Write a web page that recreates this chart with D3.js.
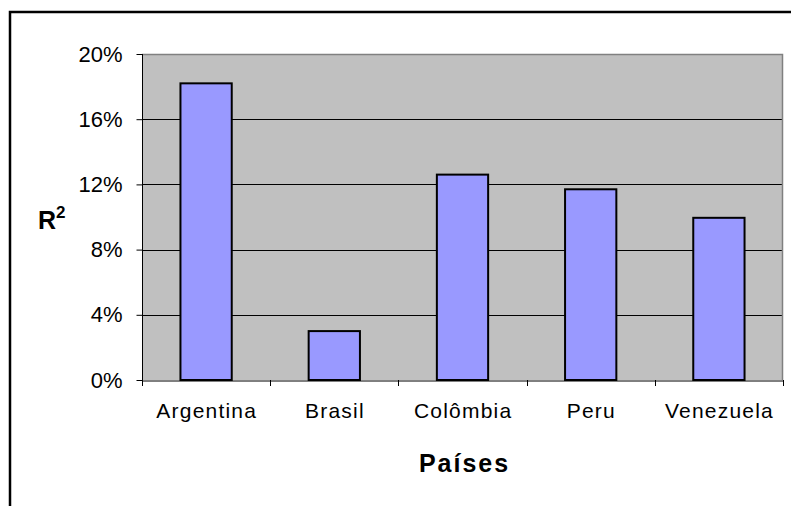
<!DOCTYPE html>
<html>
<head>
<meta charset="utf-8">
<script src="https://cdn.jsdelivr.net/npm/d3@7"></script>
<style>
  body { margin: 0; background: #fff; }
  svg { display: block; font-family: "Liberation Sans", Arial, sans-serif; }
</style>
</head>
<body>
<script>
// data
const countries = ["Argentina", "Brasil", "Colômbia", "Peru", "Venezuela"];
const r2 = [0.182, 0.030, 0.126, 0.117, 0.0995];
const yTicks = [0, 0.04, 0.08, 0.12, 0.16, 0.20];

const width = 791, height = 506;
const margin = { top: 54, right: 8, bottom: 126, left: 142 };

const svg = d3.select("body").append("svg")
  .attr("width", width)
  .attr("height", height);

// outer frame (right/bottom run off the picture)
svg.append("rect")
  .attr("x", 10).attr("y", 12)
  .attr("width", 800).attr("height", 520)
  .attr("fill", "none").attr("stroke", "#000").attr("stroke-width", 2.5);

const x = d3.scaleBand()
  .domain(countries)
  .range([margin.left, width - margin.right])
  .paddingInner(0.6).paddingOuter(0.3);

const xCat = d3.scaleBand()
  .domain(countries)
  .range([margin.left, width - margin.right]);

const y = d3.scaleLinear()
  .domain([0, 0.20])
  .range([height - margin.bottom, margin.top]);

const plotW = width - margin.right - margin.left;

// plot area
svg.append("rect")
  .attr("x", margin.left).attr("y", y(0.20))
  .attr("width", plotW).attr("height", y(0) - y(0.20))
  .attr("fill", "#c0c0c0");

// gridlines
svg.append("g")
  .selectAll("line")
  .data(yTicks.filter(d => d > 0 && d < 0.20))
  .join("line")
  .attr("x1", margin.left).attr("x2", width - margin.right)
  .attr("y1", d => Math.round(y(d)) + 0.5).attr("y2", d => Math.round(y(d)) + 0.5)
  .attr("stroke", "#000").attr("stroke-width", 1);

// plot border top / right
svg.append("path")
  .attr("d", `M${margin.left},${Math.round(y(0.20)) + 0.5}H${width - margin.right - 0.5}V${y(0)}`)
  .attr("fill", "none").attr("stroke", "#808080").attr("stroke-width", 1.5);

// bars
svg.append("g")
  .selectAll("rect")
  .data(countries)
  .join("rect")
  .attr("x", d => x(d))
  .attr("y", (d, i) => y(r2[i]))
  .attr("width", x.bandwidth())
  .attr("height", (d, i) => y(0) - y(r2[i]))
  .attr("fill", "#9999ff")
  .attr("stroke", "#000").attr("stroke-width", 2);

// y axis
const yAxis = d3.axisLeft(y)
  .tickValues(yTicks)
  .tickFormat(d3.format(".0%"))
  .tickSize(6).tickSizeOuter(0).tickPadding(14);

svg.append("g")
  .attr("transform", `translate(${margin.left + 0.5},0)`)
  .call(yAxis)
  .call(g => g.select(".domain").attr("stroke", "#000").attr("d", `M0,${y(0.20)}V${y(0)}`))
  .call(g => g.selectAll("text").attr("font-size", 22).attr("fill", "#000")
    .attr("font-family", "Liberation Sans, Arial, sans-serif"));

// x axis
const xAxis = d3.axisBottom(xCat).tickSize(0).tickPadding(23);

svg.append("g")
  .attr("transform", `translate(0,${y(0) + 0.5})`)
  .call(xAxis)
  .call(g => g.select(".domain").attr("stroke", "#000"))
  .call(g => g.selectAll("text").attr("font-size", 21).attr("fill", "#000")
    .attr("letter-spacing", "1.2px").attr("dx", "0.6px")
    .attr("font-family", "Liberation Sans, Arial, sans-serif"));

// x ticks at category boundaries
svg.append("g")
  .selectAll("line")
  .data(countries.map(c => xCat(c)).concat([width - margin.right]))
  .join("line")
  .attr("x1", d => Math.round(d) + 0.5).attr("x2", d => Math.round(d) + 0.5)
  .attr("y1", y(0)).attr("y2", y(0) + 6)
  .attr("stroke", "#000");

// axis titles
svg.append("text")
  .attr("x", (margin.left + width - margin.right) / 2 + 2)
  .attr("y", 472)
  .attr("text-anchor", "middle")
  .attr("font-size", 25).attr("font-weight", "bold")
  .attr("letter-spacing", "2px")
  .text("Países");

const rt = svg.append("text")
  .attr("x", 38).attr("y", 229)
  .attr("font-size", 25).attr("font-weight", "bold");
rt.append("tspan").text("R");
rt.append("tspan").attr("dy", -11).attr("font-size", 17).text("2");
</script>
</body>
</html>
